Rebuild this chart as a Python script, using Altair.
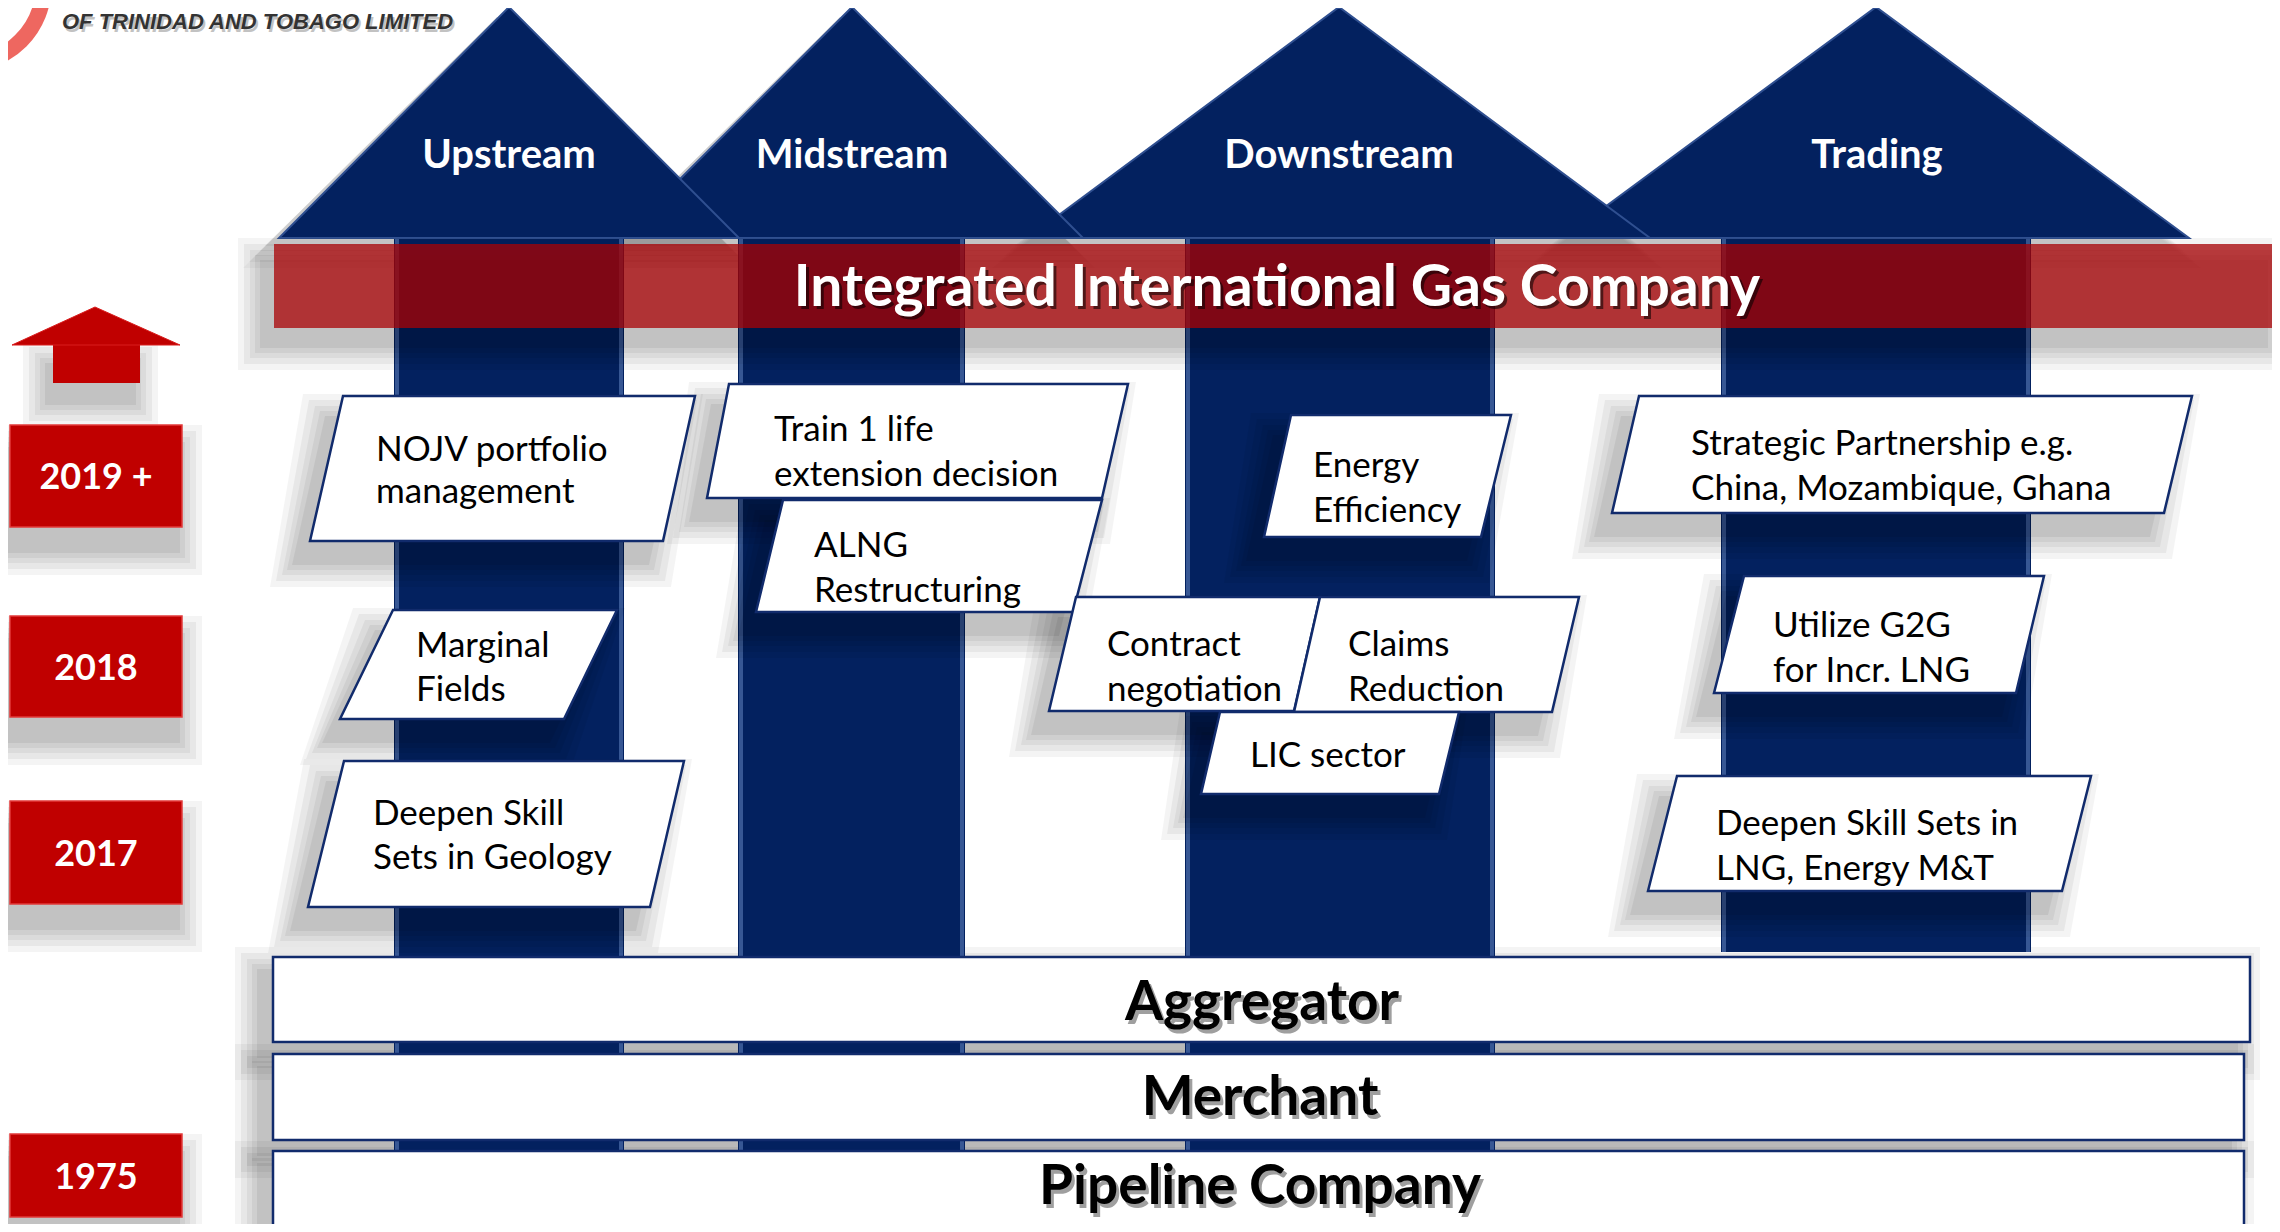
import altair as alt
import pandas as pd

# ---------------------------------------------------------------- data
logo_text = ["OF TRINIDAD AND TOBAGO LIMITED"]
logo_text_x = [62]
logo_text_y = [29]
logo_ring_x = [-34]
logo_ring_y = [-14]

arrow_names = ["Upstream", "Midstream", "Downstream", "Trading"]
arrow_apex_x = [509, 852, 1339, 1876]
arrow_apex_y = [7, 7, 7, 7]
arrow_base_y = [238, 238, 238, 238]
arrow_base_left = [279, 621, 1028, 1563]
arrow_base_right = [739, 1083, 1650, 2189]
arrow_label_x = [509, 852, 1339, 1877]
arrow_label_y = [168, 168, 168, 168]
shaft_left = [394, 738, 1185, 1721]
shaft_right = [624, 965, 1495, 2031]
shaft_top = [230, 230, 230, 230]
shaft_bottom = [1240, 1240, 1240, 952]

band_label = ["Integrated International Gas Company"]
band_left = [274]
band_right = [2278]
band_top = [244]
band_bottom = [328]
band_label_x = [1277]
band_label_y = [306]

year_labels = ["2019 +", "2018", "2017", "1975"]
year_top = [425, 616, 801, 1134]
year_bottom = [527, 717, 904, 1217]
year_left = [10, 10, 10, 10]
year_right = [182, 182, 182, 182]

red_arrow_apex_x = [95]
red_arrow_apex_y = [307]
red_arrow_base_y = [345]
red_arrow_base_left = [12]
red_arrow_base_right = [180]
red_shaft_left = [53]
red_shaft_right = [140]
red_shaft_bottom = [383]

box_ids = ["nojv", "marginal", "geology", "train", "alng", "energy",
           "contract", "claims", "lic", "strategic", "utilize", "deepen_lng"]
box_line1 = ["NOJV portfolio", "Marginal", "Deepen Skill", "Train 1 life", "ALNG",
             "Energy", "Contract", "Claims", "LIC sector",
             "Strategic Partnership e.g.", "Utilize G2G", "Deepen Skill Sets in"]
box_line2 = ["management", "Fields", "Sets in Geology", "extension decision",
             "Restructuring", "Efficiency", "negotiation", "Reduction", "",
             "China, Mozambique, Ghana", "for Incr. LNG", "LNG, Energy M&T"]
box_top = [396, 610, 761, 384, 500, 415, 597, 597, 712, 396, 576, 776]
box_bottom = [541, 719, 907, 498, 612, 537, 711, 712, 794, 513, 693, 891]
box_tl = [343, 393, 344, 729, 783, 1291, 1076, 1320, 1220, 1639, 1744, 1677]
box_tr = [695, 617, 684, 1128, 1102, 1511, 1320, 1579, 1459, 2192, 2044, 2091]
box_bl = [310, 340, 308, 707, 756, 1264, 1049, 1294, 1201, 1612, 1714, 1648]
box_br = [663, 564, 650, 1102, 1073, 1481, 1294, 1552, 1439, 2164, 2016, 2062]
box_text_x = [376, 416, 373, 774, 814, 1313, 1107, 1348, 1250, 1691, 1773, 1716]
box_base1 = [461, 657, 825, 441, 557, 477, 656, 656, 767, 455, 637, 835]
box_base2 = [503, 701, 869, 486, 602, 522, 701, 701, 0, 500, 682, 880]

bottom_labels = ["Aggregator", "Merchant", "Pipeline Company"]
bottom_top = [957, 1054, 1151]
bottom_bottom = [1042, 1140, 1260]
bottom_left = [273, 273, 273]
bottom_right = [2250, 2244, 2244]
bottom_text_x = [1262, 1260, 1260]
bottom_text_y = [1020, 1115, 1204]

# ---------------------------------------------------------------- style
FONT = "Lato"
NAVY = "#03215f"
NAVY_EDGE = "#4a69a6"
BOX_STROKE = "#112b6c"
RED = "#c00000"
SHADOW_STEPS = [(0.045, 24), (0.05, 18), (0.05, 12), (0.055, 7), (0.06, 2)]

XS = alt.Scale(domain=[8, 2272], nice=False, zero=False)
YS = alt.Scale(domain=[8, 1224], nice=False, zero=False, reverse=True)


def area_layer(df, color, stroke=None, stroke_width=0, with_opacity=False):
    kw = dict(orient="horizontal", color=color, clip=True, interpolate="linear")
    if stroke:
        kw.update(stroke=stroke, strokeWidth=stroke_width)
    enc = dict(
        y=alt.Y("y:Q", scale=YS, axis=None),
        x=alt.X("xl:Q", scale=XS, axis=None, stack=None),
        x2="xr:Q",
        detail="id:N",
    )
    if with_opacity:
        enc["opacity"] = alt.Opacity("op:Q", scale=None, legend=None)
    return alt.Chart(df).mark_area(**kw).encode(**enc)


def rect_layer(df, color, stroke=None, stroke_width=0, with_opacity=False, opacity=1.0):
    kw = dict(color=color, clip=True, opacity=opacity)
    if stroke:
        kw.update(stroke=stroke, strokeWidth=stroke_width)
    enc = dict(
        x=alt.X("x1:Q", scale=XS, axis=None),
        x2="x2:Q",
        y=alt.Y("y1:Q", scale=YS, axis=None),
        y2="y2:Q",
    )
    if with_opacity:
        enc["opacity"] = alt.Opacity("op:Q", scale=None, legend=None)
    return alt.Chart(df).mark_rect(**kw).encode(**enc)


def text_layer(df, size, color, weight="normal", align="left", dx=0, dy=0,
               font=FONT, italic=False, opacity=1.0):
    kw = dict(font=font, fontSize=size, fontWeight=weight, color=color, align=align,
              baseline="alphabetic", dx=dx, dy=dy, clip=True, opacity=opacity)
    if italic:
        kw["fontStyle"] = "italic"
    return alt.Chart(df).mark_text(**kw).encode(
        x=alt.X("x:Q", scale=XS, axis=None),
        y=alt.Y("y:Q", scale=YS, axis=None),
        text="t:N",
    )


def rect_shadow(x1s, x2s, y1s, y2s, dx, dy, prefix):
    rows = []
    for i in range(len(x1s)):
        for k, (op, e) in enumerate(SHADOW_STEPS):
            rows.append(dict(id=f"{prefix}{i}_{k}", op=op,
                             x1=x1s[i] - e + dx, x2=x2s[i] + e + dx,
                             y1=y1s[i] - e + dy, y2=y2s[i] + e + dy))
    return pd.DataFrame(rows)


# ---------------------------------------------------------------- tables
heads = {}
for i, name in enumerate(arrow_names):
    heads[name] = pd.DataFrame([
        dict(id=name, y=arrow_apex_y[i], xl=arrow_apex_x[i], xr=arrow_apex_x[i]),
        dict(id=name, y=arrow_base_y[i], xl=arrow_base_left[i], xr=arrow_base_right[i]),
    ])

head_shadow_rows = []
for i, name in enumerate(arrow_names):
    for k, (op, e) in enumerate(SHADOW_STEPS):
        head_shadow_rows += [
            dict(id=f"{name}_{k}", op=op * 0.8, y=arrow_apex_y[i] + 10,
                 xl=arrow_apex_x[i] - 12, xr=arrow_apex_x[i] - 12),
            dict(id=f"{name}_{k}", op=op * 0.8, y=arrow_base_y[i] + e + 6,
                 xl=arrow_base_left[i] - e - 12, xr=arrow_base_right[i] + e - 12),
        ]
head_shadow = pd.DataFrame(head_shadow_rows)

shafts = pd.DataFrame(dict(x1=shaft_left, x2=shaft_right, y1=shaft_top, y2=shaft_bottom))
shaft_edges = pd.DataFrame(dict(
    x1=[v + 1 for v in shaft_left] + [v - 5 for v in shaft_right],
    x2=[v + 5 for v in shaft_left] + [v - 1 for v in shaft_right],
    y1=shaft_top + shaft_top,
    y2=shaft_bottom + shaft_bottom,
))
head_labels = pd.DataFrame(dict(x=arrow_label_x, y=arrow_label_y, t=arrow_names))

band = pd.DataFrame(dict(x1=band_left, x2=band_right, y1=band_top, y2=band_bottom))
band_shadow = rect_shadow(band_left, band_right, band_top, band_bottom, -12, 18, "band")
band_text = pd.DataFrame(dict(x=band_label_x, y=band_label_y, t=band_label))

para_rows, para_shadow_rows, para_text_rows = [], [], []
for i, bid in enumerate(box_ids):
    para_rows += [
        dict(id=bid, y=box_top[i], xl=box_tl[i], xr=box_tr[i]),
        dict(id=bid, y=box_bottom[i], xl=box_bl[i], xr=box_br[i]),
    ]
    for k, (op, e) in enumerate(SHADOW_STEPS):
        para_shadow_rows += [
            dict(id=f"{bid}_{k}", op=op, y=box_top[i] - e + 22,
                 xl=box_tl[i] - e - 16, xr=box_tr[i] + e - 16),
            dict(id=f"{bid}_{k}", op=op, y=box_bottom[i] + e + 22,
                 xl=box_bl[i] - e - 16, xr=box_br[i] + e - 16),
        ]
    para_text_rows.append(dict(x=box_text_x[i], y=box_base1[i], t=box_line1[i]))
    if box_line2[i]:
        para_text_rows.append(dict(x=box_text_x[i], y=box_base2[i], t=box_line2[i]))
paras = pd.DataFrame(para_rows)
para_shadow = pd.DataFrame(para_shadow_rows)
para_text = pd.DataFrame(para_text_rows)

bottoms = pd.DataFrame(dict(x1=bottom_left, x2=bottom_right, y1=bottom_top, y2=bottom_bottom))
bottom_shadow = rect_shadow(bottom_left, bottom_right, bottom_top, bottom_bottom, -14, 14, "bot")
bottom_text = pd.DataFrame(dict(x=bottom_text_x, y=bottom_text_y, t=bottom_labels))

years = pd.DataFrame(dict(x1=year_left, x2=year_right, y1=year_top, y2=year_bottom))
year_shadow = rect_shadow(year_left, year_right, year_top, year_bottom, -4, 24, "yr")
year_text = pd.DataFrame(dict(
    x=[(a + b) / 2 for a, b in zip(year_left, year_right)],
    y=[(a + b) / 2 + 13 for a, b in zip(year_top, year_bottom)],
    t=year_labels,
))

red_head = pd.DataFrame([
    dict(id="red", y=red_arrow_apex_y[0], xl=red_arrow_apex_x[0], xr=red_arrow_apex_x[0]),
    dict(id="red", y=red_arrow_base_y[0], xl=red_arrow_base_left[0], xr=red_arrow_base_right[0]),
])
red_shaft = pd.DataFrame(dict(x1=red_shaft_left, x2=red_shaft_right,
                              y1=[v - 1 for v in red_arrow_base_y], y2=red_shaft_bottom))
red_shadow = rect_shadow(red_shaft_left, red_shaft_right, red_arrow_base_y, red_shaft_bottom,
                         -6, 20, "ra")

logo_ring = pd.DataFrame(dict(x=logo_ring_x, y=logo_ring_y))
logo = pd.DataFrame(dict(x=logo_text_x, y=logo_text_y, t=logo_text))

# ---------------------------------------------------------------- layers
layers = []
layers.append(rect_layer(bottom_shadow, "black", with_opacity=True))
layers.append(area_layer(head_shadow, "black", with_opacity=True))
layers.append(rect_layer(shafts, NAVY))
layers.append(rect_layer(shaft_edges, NAVY_EDGE, opacity=0.75))
for name in ["Trading", "Downstream", "Midstream", "Upstream"]:
    layers.append(area_layer(heads[name], NAVY, stroke="#2f4f90", stroke_width=2))
layers.append(text_layer(head_labels, 40, "white", weight="bold", align="center"))
layers.append(rect_layer(band_shadow, "black", with_opacity=True))
layers.append(rect_layer(band, "#aa0306", opacity=0.75))
layers.append(text_layer(band_text, 57, "black", weight="bold", align="center",
                         dx=3, dy=3, opacity=0.55))
layers.append(text_layer(band_text, 57, "white", weight="bold", align="center"))
layers.append(area_layer(para_shadow, "black", with_opacity=True))
layers.append(area_layer(paras, "white", stroke=BOX_STROKE, stroke_width=2.5))
layers.append(text_layer(para_text, 35, "black"))
layers.append(rect_layer(bottoms, "white", stroke=BOX_STROKE, stroke_width=2.5))
layers.append(text_layer(bottom_text, 55, "#777777", weight="bold", align="center",
                         dx=3, dy=4, opacity=0.7))
layers.append(text_layer(bottom_text, 55, "black", weight="bold", align="center"))
layers.append(rect_layer(year_shadow, "black", with_opacity=True))
layers.append(rect_layer(red_shadow, "black", with_opacity=True))
layers.append(rect_layer(years, RED, stroke="#e23a3a", stroke_width=1.5))
layers.append(text_layer(year_text, 36, "white", weight="bold", align="center"))
layers.append(rect_layer(red_shaft, RED))
layers.append(area_layer(red_head, RED, stroke="#d91c1c", stroke_width=1))
layers.append(
    alt.Chart(logo_ring).mark_point(shape="circle", filled=False, size=24000,
                                    stroke="#e8281e", strokeWidth=16, clip=True)
    .encode(x=alt.X("x:Q", scale=XS, axis=None), y=alt.Y("y:Q", scale=YS, axis=None))
)
layers.append(text_layer(logo, 22, "#9a9a9a", weight="bold", italic=True,
                         font="Liberation Sans", dx=2, dy=3, opacity=0.6))
layers.append(text_layer(logo, 22, "#333333", weight="bold", italic=True,
                         font="Liberation Sans"))

chart = (
    alt.layer(*layers)
    .properties(width=2264, height=1216, padding=0,
                autosize=alt.AutoSizeParams(type="none"), background="white")
    .configure_view(stroke=None)
)

chart.save("out.html", embed_options={"renderer": "svg", "actions": False})
